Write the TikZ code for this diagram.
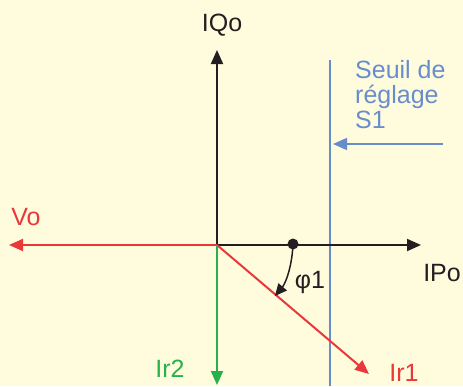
\documentclass[tikz,border=0pt]{standalone}
\usepackage{fontspec}
\setmainfont{Liberation Sans}
\usetikzlibrary{arrows.meta}

\definecolor{bgyellow}{RGB}{255,252,222}
\definecolor{phasered}{RGB}{234,56,58}
\definecolor{phasegreen}{RGB}{40,176,75}
\definecolor{seuilblue}{RGB}{104,140,204}
\definecolor{axisblack}{RGB}{35,31,32}

\tikzset{
  vector/.style={line width=2pt, -{Triangle[length=14pt,width=12pt]}},
  label/.style={inner sep=0pt, font=\fontsize{25}{25}\selectfont}
}

\begin{document}
\begin{tikzpicture}[x=1pt, y=-1pt]
  % Background
  \fill[bgyellow] (0,0) rectangle (463,386);
  \useasboundingbox (0,0) rectangle (463,386);

  % Points of the diagram
  \coordinate (O) at (217,245);
  \coordinate (IQtip) at (217,50);
  \coordinate (IPtip) at (421,245);
  \coordinate (Votip) at (9,245);
  \coordinate (Ir2tip) at (217,385);
  \coordinate (Ir1tip) at (369,374);
  \coordinate (Stop) at (330,60);
  \coordinate (Sbot) at (330,386);
  \coordinate (Sstart) at (443,144);
  \coordinate (Send) at (333,144);
  \coordinate (Phitip) at (275,296);

  % Seuil de reglage S1
  \draw[seuilblue, line width=1.5pt] (Stop) -- (Sbot);
  \draw[seuilblue, line width=1.5pt, -{Triangle[length=14pt,width=12pt]}] (Sstart) -- (Send);

  % Axes IPo and IQo
  \draw[vector, axisblack] (O) -- (IPtip);
  \draw[vector, axisblack] (O) -- (IQtip);

  % Vo, Ir1 and Ir2
  \draw[vector, phasered] (O) -- (Votip);
  \draw[vector, phasered] (O) -- (Ir1tip);
  \draw[vector, phasegreen] (O) -- (Ir2tip);

  % Angle phi1
  \fill[axisblack] (293,244) circle (5.5pt) coordinate (Dot);
  \draw[axisblack, line width=1.5pt, -{Triangle[length=12pt,width=11pt]}]
    (Dot) .. controls (292,268) and (285,284) .. (Phitip);

  % Labels
  \node[label, axisblack] (IQo) at (222,25) {IQo};
  \node[label, axisblack, anchor=east] (IPo) at (461,273) {IPo};
  \node[label, phasered] (Vo) at (26,217) {Vo};
  \node[label, phasered] (Ir1) at (404,373) {Ir1};
  \node[label, phasegreen] (Ir2) at (170,369) {Ir2};
  \node[label, axisblack] (phi) at (310,282) {φ1};
  \node[label, seuilblue, align=left, anchor=north west] (seuil) at (355,60) {Seuil de\\réglage\\S1};

\end{tikzpicture}
\end{document}
